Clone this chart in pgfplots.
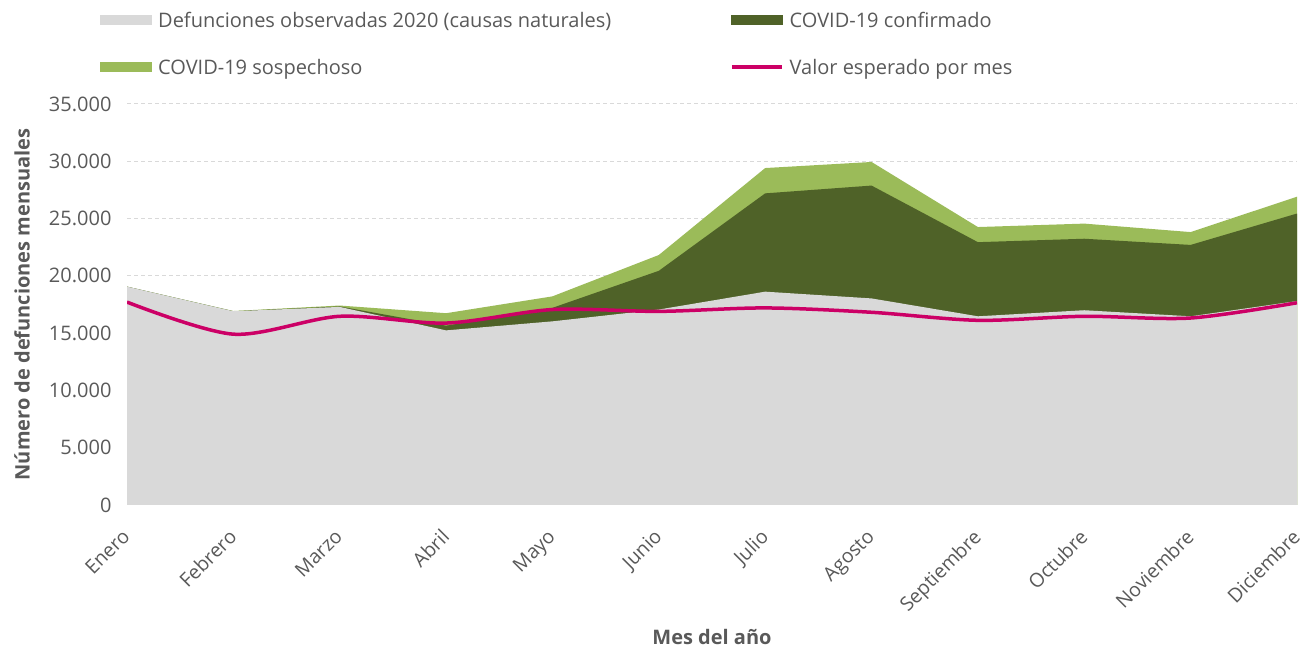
\documentclass[border=0pt]{standalone}
\usepackage{fontspec}
\setmainfont{Open Sans}
\usepackage{pgfplots}
\pgfplotsset{compat=1.18}
\definecolor{grayA}{HTML}{D9D9D9}
\definecolor{darkG}{HTML}{4F6228}
\definecolor{lightG}{HTML}{9BBB59}
\definecolor{pinkL}{HTML}{CC0066}
\definecolor{txt}{HTML}{595959}
\pgfplotsset{
  myarea/.style={legend image code/.code={\fill[##1] (0pt,-5pt) rectangle (52pt,5pt);}},
  myline/.style={legend image code/.code={\draw[##1] (1pt,0pt) -- (51pt,0pt);}},
}
\begin{document}
\begin{tikzpicture}[x=1pt,y=1pt]
\useasboundingbox (0,0) rectangle (1303,650);
\begin{axis}[
  at={(127pt,145pt)}, anchor=south west,
  scale only axis, width=1170pt, height=401pt,
  xmin=0, xmax=11, ymin=0, ymax=35000,
  xtick={0,...,11},
  xticklabels={Enero,Febrero,Marzo,Abril,Mayo,Junio,Julio,Agosto,Septiembre,Octubre,Noviembre,Diciembre},
  ytick={0,5000,...,35000},
  axis x line*=bottom, axis y line*=left,
  x axis line style={draw=grayA, line width=1pt, -},
  y axis line style={draw=none},
  major tick length=0pt,
  ymajorgrids,
  grid style={draw=grayA, line width=1pt, dash pattern=on 4pt off 3pt},
  /pgf/number format/.cd, 1000 sep={.}, assume math mode=true,
  /pgfplots/.cd,
  scaled y ticks=false,
  yticklabel style={font=\fontsize{20}{24}\selectfont, text=txt, xshift=-12pt},
  xticklabel style={font=\fontsize{19.5}{24}\selectfont, text=txt, anchor=north east, xshift=-6pt, yshift=-18pt, rotate=45},
  xlabel={Mes del año},
  ylabel={Número de defunciones mensuales},
  every axis x label/.style={at={(axis description cs:0.5,-0.329)}, anchor=center, font=\bfseries\fontsize{20}{24}\selectfont, text=txt},
  every axis y label/.style={at={(axis description cs:-0.0897,0.5)}, anchor=center, rotate=90, font=\bfseries\fontsize{20}{24}\selectfont, text=txt},
  legend columns=2,
  legend cell align=left,
  legend style={at={(axis description cs:-0.0231,1.2344)}, anchor=north west, draw=none, fill=none, inner sep=0pt, column sep=0pt, row sep=27pt,
    font=\fontsize{20}{24}\selectfont, text=txt,
    nodes={inner xsep=6pt, inner ysep=0pt, text height=17pt, text depth=3pt}},
]
% top of "COVID-19 sospechoso" layer (cumulative)
\addplot[fill=lightG, draw=none, forget plot] coordinates {
(0,19060) (1,16930) (2,17410) (3,16740) (4,18210) (5,21820) (6,29410) (7,29940) (8,24260) (9,24560) (10,23820) (11,26910)} \closedcycle;
% top of "COVID-19 confirmado" layer (cumulative)
\addplot[fill=darkG, draw=none, forget plot] coordinates {
(0,19060) (1,16910) (2,17330) (3,15650) (4,17210) (5,20440) (6,27200) (7,27880) (8,22940) (9,23240) (10,22700) (11,25440)} \closedcycle;
% observed deaths (natural causes)
\addplot[fill=grayA, draw=none, forget plot] coordinates {
(0,19060) (1,16910) (2,17290) (3,15240) (4,16030) (5,17060) (6,18620) (7,18030) (8,16470) (9,17000) (10,16470) (11,17800)} \closedcycle;
% expected value
\addplot[pinkL, line width=3.5pt, smooth, tension=0.5, forget plot] coordinates {
(0,17710) (1,14910) (2,16470) (3,15880) (4,17060) (5,16900) (6,17200) (7,16820) (8,16120) (9,16470) (10,16320) (11,17650)};

\addlegendimage{myarea, fill=grayA, draw=none}
\addlegendentry{\makebox[566pt][l]{Defunciones observadas 2020 (causas naturales)}}
\addlegendimage{myarea, fill=darkG, draw=none}
\addlegendentry{COVID-19 confirmado}
\addlegendimage{myarea, fill=lightG, draw=none}
\addlegendentry{COVID-19 sospechoso}
\addlegendimage{myline, draw=pinkL, line width=3.5pt}
\addlegendentry{Valor esperado por mes}
\end{axis}
\end{tikzpicture}
\end{document}
